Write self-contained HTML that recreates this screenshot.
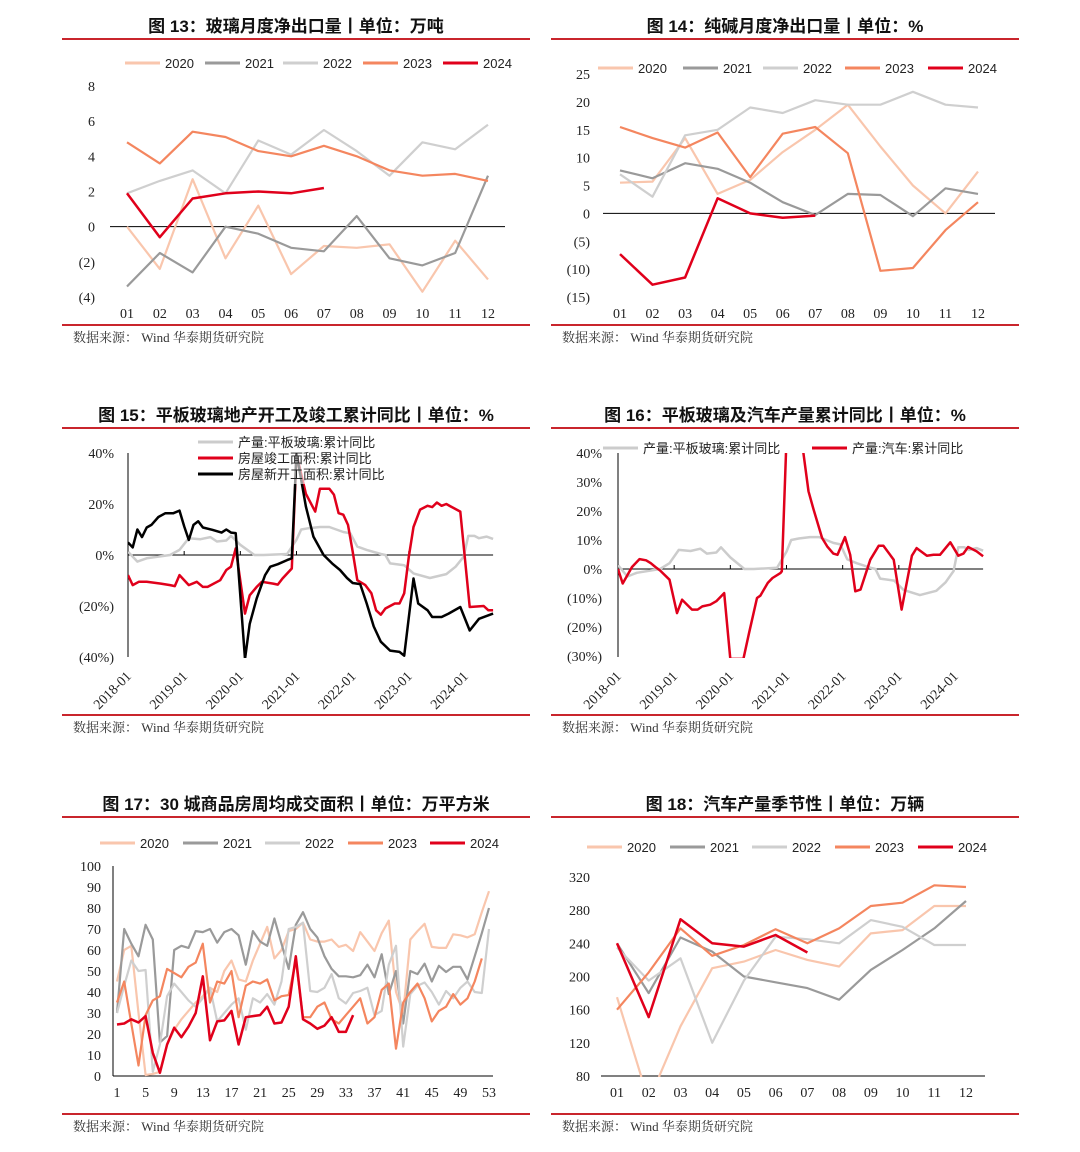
<!DOCTYPE html>
<html><head><meta charset="utf-8"><style>
body{margin:0;background:#fff;width:1080px;height:1152px;overflow:hidden}
svg{display:block}
.t{font-family:"Liberation Sans","Noto Sans CJK SC",sans-serif;font-weight:bold;font-size:17px;fill:#111}
.src{font-family:"Liberation Serif","Noto Serif CJK SC","Noto Sans CJK SC",serif;font-size:13px;fill:#333}
.tk{font-family:"Liberation Serif",serif;font-size:14px;fill:#222}
.lg{font-family:"Liberation Sans","Noto Sans CJK SC",sans-serif;font-size:13px;fill:#222}
</style></head><body>
<svg id="s" width="1080" height="1152" viewBox="0 0 1080 1152" xmlns="http://www.w3.org/2000/svg">
<defs>
<clipPath id="c13"><rect x="100" y="80" width="420" height="225"/></clipPath>
<clipPath id="c14"><rect x="600" y="70" width="410" height="230"/></clipPath>
<clipPath id="c15"><rect x="128" y="453" width="380" height="205"/></clipPath>
<clipPath id="c16"><rect x="618" y="453" width="380" height="205"/></clipPath>
<clipPath id="c17"><rect x="114" y="860" width="390" height="217"/></clipPath>
<clipPath id="c18"><rect x="603" y="870" width="400" height="207"/></clipPath>
</defs>
</svg>
<script>
const C20='#f9c6ad',C21='#9a9a9a',C22='#cfcfcf',C23='#f4865f',C24='#e0001b';
// Chart 13
const c13Cats=['01','02','03','04','05','06','07','08','09','10','11','12'];
const c13Ticks=['8','6','4','2','0','(2)','(4)'];
const c13Y2020=[0.0,-2.4,2.7,-1.8,1.2,-2.7,-1.1,-1.2,-1.0,-3.7,-0.8,-3.0];
const c13Y2021=[-3.4,-1.5,-2.6,0.0,-0.4,-1.2,-1.4,0.6,-1.8,-2.2,-1.5,2.9];
const c13Y2022=[1.9,2.6,3.2,1.9,4.9,4.1,5.5,4.3,2.9,4.8,4.4,5.8];
const c13Y2023=[4.8,3.6,5.4,5.1,4.3,4.0,4.6,4.0,3.2,2.9,3.0,2.6];
const c13Y2024=[1.9,-0.6,1.6,1.9,2.0,1.9,2.2];
// Chart 14
const c14Cats=['01','02','03','04','05','06','07','08','09','10','11','12'];
const c14Ticks=['25','20','15','10','5','0','(5)','(10)','(15)'];
const c14Y2020=[5.5,5.7,13.5,3.5,6,11,15,19.5,12,5,0,7.5];
const c14Y2021=[7.7,6.3,9,8,5.5,2,-0.3,3.5,3.3,-0.5,4.5,3.5];
const c14Y2022=[7,3,14,15,19,18,20.3,19.5,19.5,21.8,19.5,19];
const c14Y2023=[15.5,13.5,11.8,14.5,6.5,14.3,15.5,10.8,-10.3,-9.8,-3,2];
const c14Y2024=[-7.3,-12.8,-11.5,2.7,0,-0.8,-0.4];
// Chart 15/16 (month index from 2018-01)
const yearLabels=['2018-01','2019-01','2020-01','2021-01','2022-01','2023-01','2024-01'];
const glassM=[0,2,4,9,11,13,15.5,17.6,19,21,22,24,27,29,34,36,37,38.6,41,43,46,47.5,49,51,54,55,56,59,61,64.5,68,70,71.7,72.7,74,75,76.6,78];
const glassV=[1.3,-2.6,-1.3,0,2,6.6,6.2,7,5.3,5.7,7.5,4,0,0,0.4,6,10,10.5,11,11,9,8.5,3.3,2,0.4,0,-3.3,-4,-7.2,-9,-7.5,-4.6,-0.7,7.5,7.5,6.6,7.2,6.3];
const compM=[0,1,2.3,4,7,9,10,11,13,14.7,16,17,19.7,21,22,23,25,26,27.5,28.6,31,32,33,35,36,38,40,41,43,44,45,46,47,48,49,50.7,52,53,54,55,57,58,59,60,61,62.4,64,65,66,67,68,69,71,73,76,77,78];
const compV=[-7.9,-11.8,-10.5,-10.5,-11.2,-11.8,-12.2,-7.9,-11.8,-10.5,-12.5,-12.5,-9.9,-5.9,-4.6,2.6,-23,-15.8,-12.5,-10.5,-11.2,-11.6,-9.2,-5.3,39.5,24,17,26,26,23.7,16.4,15.8,11.8,1.3,-9.9,-11.8,-15,-21.7,-23.4,-21,-19,-19,-15,-0.7,11,17.8,19.3,18.8,20.6,19.3,20,19,17,-20.4,-20,-21.7,-21.7];
const startM=[0,1,2,3,4,5,6.5,8,9.7,11,12,13,14,15,16,18,20,21,22,23,25,26,27.5,29.3,30.4,32,34,35,36,38,39.6,41.8,43.6,45.3,46.8,48,49.6,51,52.5,54,56,58,59,61,62,64,65,67,68.5,71,73,75,78];
const startV=[4.9,3,10,7,10.8,11.8,14.9,16.4,16.4,17.4,11.2,5.9,11.8,13.2,10.8,9.9,8.8,10,8.8,8.6,-40.8,-27,-17,-7.9,-4.6,-3.6,-2,-1.3,40,19,7.2,0,-3.3,-5.9,-9,-11,-11.4,-19,-28,-34,-37.5,-38,-39.5,-9.2,-19,-21.7,-24.3,-24.3,-23,-20.4,-29.6,-25,-23];
const autoM=[0,1,3,4.6,6,7,8,9,11,12.6,13.7,15.8,17,18,19.7,21,22.7,24,26.8,28,29.7,30.4,32,33,34.7,35,36,37,38,39.6,40.7,41.8,43.6,44.7,46,46.9,48.5,49.6,50.7,51.8,53.9,55.7,56.7,58.9,60.6,62.8,63.8,66,67.4,68.8,71,72.7,73.8,74.8,76.6,78];
const autoV=[0,-5,0.7,3.4,3,2,0.7,-0.5,-3.7,-15.2,-10.6,-14,-14,-12.9,-12.3,-11.1,-8.3,-31,-31,-22,-10,-9.2,-4.8,-3.1,-1.4,-0.8,45,80,70,40,26.8,20.5,10.7,7.8,5.3,4.9,11,4.9,-7.7,-7.1,3.2,8,8,3.2,-14,4.6,7.2,4.6,4.9,4.9,9.2,4.6,5.3,7.6,6.1,4.4];
const c15Ticks=['40%','20%','0%','(20%)','(40%)'];
const c16Ticks=['40%','30%','20%','10%','0%','(10%)','(20%)','(30%)'];
// Chart 17
const c17Ticks=['100','90','80','70','60','50','40','30','20','10','0'];
const c17XLabels=['1','5','9','13','17','21','25','29','33','37','41','45','49','53'];
const c17Y2020=[45,60,62,30,0.5,1,2,15,22,27,31,35,38,42,40,50,55,46,45,55,63,71,56,60,69,70,73,65,64,64,65,61.5,62.5,59.5,68.5,64,59.5,68,74,40,30,65,69,72.5,61.5,61,61,67.5,67,66,67.5,78,88];
const c17Y2021=[30,70,63,57,72,65,16,19,60,62,61,69,68.5,70,63.5,68.5,70,67,53,69,64,62,75,63,51,72,78,70,66,57,51,47.5,47.5,47,48,53,47,58,39,50,25,50,48.5,53.5,45,52.5,49.5,52,52,46,57,68,80];
const c17Y2022=[30,43,55,50,50.5,2,15,38,44,40,36,33,37,42,26,30,34,37,22,37,35,39,34,45,70,71,73,40.5,40,42,48.5,37,34.5,39.5,40.5,42,29,31,53,62,14,39,43,44.5,40,34,40.5,37,42,45,40,39.5,70];
const c17Y2023=[35,45,25,5,29,36,38,51,49,47,52,54,63,35,45,44,50,28,43,45,44,46,36,38,38.5,55,28,28,33,35,27,25,29,33,37,25,28,41,44,13,35,40,44,37,26,31,33,39,34,37,45,56];
const c17Y2024=[24.5,25,27,25.5,28.5,11,1.5,15,23,18.5,23.5,30,47.5,17,26,26.5,31,15,28,28.5,29,33,25,25.5,33,57,27,25,22.5,24,28,21,21,29];
// Chart 18
const c18Cats=['01','02','03','04','05','06','07','08','09','10','11','12'];
const c18Ticks=['320','280','240','200','160','120','80'];
const c18Y2020=[175,50,140,210,218,232,220,212,252,256,285,285];
const c18Y2021=[240,180,247,230,200,193,186,172,208,232,258,291];
const c18Y2022=[235,195,222,120,195,248,245,240,268,260,238,238];
const c18Y2023=[160,205,258,225,238,257,240,258,285,289,310,308];
const c18Y2024=[240,151,269,240,236,250,229];

const S=document.getElementById('s');const NS='http://www.w3.org/2000/svg';
function mk(tag,attrs,parent){const e=document.createElementNS(NS,tag);for(const k in attrs)e.setAttribute(k,attrs[k]);(parent||S).appendChild(e);return e;}
function txt(x,y,s,cls,anchor,fill,extra){const e=mk('text',Object.assign({x:x,y:y,class:cls,'text-anchor':anchor||'start'},extra||{}));if(fill)e.setAttribute('fill',fill);e.textContent=s;return e;}
function lin(a,b){return v=>a[1]+(v-a[0])*(b[1]-a[1])/(b[0]-a[0]);}
function series(xs,ys,xf,yf,color,w,clip,name){const pts=ys.map((v,i)=>xf(xs[i]).toFixed(1)+','+yf(v).toFixed(1)).join(' ');
 const p=mk('polyline',{points:pts,fill:'none',stroke:color,'stroke-width':w,'stroke-linejoin':'round','clip-path':'url(#'+clip+')'});
 
 return p;}
function frame(cx,title,ytop,ybot,src,nm){
 const t=txt(cx,ytop-6,title,'t','middle');
 
 
 const x0=cx<540?62:551;
 const r1=mk('rect',{x:x0,y:ytop,width:468,height:2,fill:'#c9252c'});
 
 
 const r2=mk('rect',{x:x0,y:ybot,width:468,height:2,fill:'#c9252c'});
 
 
 const s=txt(x0+11,ybot+18,'数据来源： Wind 华泰期货研究院','src');
 
 }
function legend(items,y,nm){items.forEach(it=>{const l=mk('line',{x1:it[0],y1:y,x2:it[0]+35,y2:y,stroke:it[2],'stroke-width':3});
 
 
 const t=txt(it[0]+40,y+5,it[1],'lg');
 
 });}
function yticks(ticks,x,yf,vals,redNeg){ticks.forEach((s,i)=>{const t=txt(x,yf(vals[i])+5,s,'tk','end',redNeg&&s.startsWith('(')?'#e0001b':null);
 
 });}

// ---------- Chart 13
frame(296,'图 13：玻璃月度净出口量丨单位：万吨',38,324,'','fig13');
{const xf=lin([0,127],[11,488]),yf=lin([8,86],[-4,297]);
 legend([[125,'2020',C20],[205,'2021',C21],[283,'2022',C22],[363,'2023',C23],[443,'2024',C24]],63,'fig13');
 yticks(c13Ticks,95,yf,[8,6,4,2,0,-2,-4],false);
 const z=mk('line',{x1:110,y1:yf(0),x2:505,y2:yf(0),stroke:'#000','stroke-width':1});
 
 
 c13Cats.forEach((c,i)=>{const t=txt(xf(i),318,c,'tk','middle');
  
  });
 const X=c13Cats.map((c,i)=>i);
 series(X,c13Y2020,xf,yf,C20,2.2,'c13','fig13-line-2020');series(X,c13Y2021,xf,yf,C21,2.2,'c13','fig13-line-2021');
 series(X,c13Y2022,xf,yf,C22,2.2,'c13','fig13-line-2022');series(X,c13Y2023,xf,yf,C23,2.2,'c13','fig13-line-2023');
 series(X,c13Y2024,xf,yf,C24,2.5,'c13','fig13-line-2024');}

// ---------- Chart 14
frame(785,'图 14：纯碱月度净出口量丨单位：%',38,324,'','fig14');
{const xf=lin([0,620],[11,978]),yf=lin([25,74],[-15,297]);
 legend([[598,'2020',C20],[683,'2021',C21],[763,'2022',C22],[845,'2023',C23],[928,'2024',C24]],68,'fig14');
 yticks(c14Ticks,590,yf,[25,20,15,10,5,0,-5,-10,-15],false);
 const z=mk('line',{x1:603,y1:yf(0),x2:995,y2:yf(0),stroke:'#000','stroke-width':1});
 
 
 c14Cats.forEach((c,i)=>{const t=txt(xf(i),318,c,'tk','middle');
  
  });
 const X=c14Cats.map((c,i)=>i);
 series(X,c14Y2020,xf,yf,C20,2.2,'c14','fig14-line-2020');series(X,c14Y2021,xf,yf,C21,2.2,'c14','fig14-line-2021');
 series(X,c14Y2022,xf,yf,C22,2.2,'c14','fig14-line-2022');series(X,c14Y2023,xf,yf,C23,2.2,'c14','fig14-line-2023');
 series(X,c14Y2024,xf,yf,C24,2.5,'c14','fig14-line-2024');}

function monthAxes(x0,x1,yTop,yBot,yZero,nm){
 const a=mk('line',{x1:x0,y1:yTop,x2:x0,y2:yBot,stroke:'#000','stroke-width':1});
 
 
 const xf=lin([0,x0],[72,x0+337]);
 const z=mk('line',{x1:x0,y1:yZero,x2:xf(78),y2:yZero,stroke:'#000','stroke-width':1});
 
 
 yearLabels.forEach((s,i)=>{const x=xf(i*12);mk('line',{x1:x,y1:yZero,x2:x,y2:yZero-4,stroke:'#000'});
  const t=txt(x+4,yBot+20,s,'tk','end',null,{transform:'rotate(-45 '+(x+4)+' '+(yBot+20)+')'});
  
  });
 return xf;}

// ---------- Chart 15
frame(296,'图 15：平板玻璃地产开工及竣工累计同比丨单位：%',427,714,'','fig15');
{const yf=lin([40,453],[-40,657]);const xf=monthAxes(128,500,453,657,yf(0),'fig15');
 yticks(c15Ticks,114,yf,[40,20,0,-20,-40],true);
 series(glassM,glassV,xf,yf,'#cccccc',2.5,'c15','fig15-line-glass');
 series(compM,compV,xf,yf,'#e0001b',2.5,'c15','fig15-line-completion');
 series(startM,startV,xf,yf,'#000',2.5,'c15','fig15-line-new-starts');
 const bg=mk('rect',{x:232,y:434,width:175,height:50,fill:'#fff',opacity:0.6});
 
 
 legend([[198,'产量:平板玻璃:累计同比','#cccccc']],442,'fig15');
 legend([[198,'房屋竣工面积:累计同比','#e0001b']],458,'fig15');
 legend([[198,'房屋新开工面积:累计同比','#000']],474,'fig15');}

// ---------- Chart 16
frame(785,'图 16：平板玻璃及汽车产量累计同比丨单位：%',427,714,'','fig16');
{const yf=lin([40,453],[0,569]);const xf=monthAxes(618,990,453,657,yf(0),'fig16');
 yticks(c16Ticks,602,yf,[40,30,20,10,0,-10,-20,-30],true);
 series(glassM,glassV,xf,yf,'#cccccc',2.5,'c16','fig16-line-glass');
 series(autoM,autoV,xf,yf,'#e0001b',2.5,'c16','fig16-line-auto');
 legend([[603,'产量:平板玻璃:累计同比','#cccccc'],[812,'产量:汽车:累计同比','#e0001b']],448,'fig16');}

// ---------- Chart 17
frame(296,'图 17：30 城商品房周均成交面积丨单位：万平方米',816,1113,'','fig17');
{const xf=lin([1,117],[53,489]),yf=lin([100,866],[0,1076]);
 legend([[100,'2020',C20],[183,'2021',C21],[265,'2022',C22],[348,'2023',C23],[430,'2024',C24]],843,'fig17');
 yticks(c17Ticks,101,yf,[100,90,80,70,60,50,40,30,20,10,0],false);
 const a=mk('line',{x1:113,y1:866,x2:113,y2:1076,stroke:'#000'});
 
 
 const b=mk('line',{x1:113,y1:1076,x2:493,y2:1076,stroke:'#000'});
 
 
 c17XLabels.forEach(s=>{const t=txt(xf(+s),1097,s,'tk','middle');
  
  });
 const W=n=>Array.from({length:n},(_,i)=>i+1);
 series(W(53),c17Y2020,xf,yf,C20,2.2,'c17','fig17-line-2020');series(W(53),c17Y2021,xf,yf,C21,2.2,'c17','fig17-line-2021');
 series(W(53),c17Y2022,xf,yf,C22,2.2,'c17','fig17-line-2022');series(W(52),c17Y2023,xf,yf,C23,2.2,'c17','fig17-line-2023');
 series(W(34),c17Y2024,xf,yf,C24,2.5,'c17','fig17-line-2024');}

// ---------- Chart 18
frame(785,'图 18：汽车产量季节性丨单位：万辆',816,1113,'','fig18');
{const xf=lin([0,617],[11,966]),yf=lin([320,877],[80,1076]);
 legend([[587,'2020',C20],[670,'2021',C21],[752,'2022',C22],[835,'2023',C23],[918,'2024',C24]],847,'fig18');
 yticks(c18Ticks,590,yf,[320,280,240,200,160,120,80],false);
 const b=mk('line',{x1:601,y1:1076,x2:985,y2:1076,stroke:'#000'});
 
 
 c18Cats.forEach((c,i)=>{const t=txt(xf(i),1097,c,'tk','middle');
  
  });
 const X=c18Cats.map((c,i)=>i);
 series(X,c18Y2020,xf,yf,C20,2.2,'c18','fig18-line-2020');series(X,c18Y2021,xf,yf,C21,2.2,'c18','fig18-line-2021');
 series(X,c18Y2022,xf,yf,C22,2.2,'c18','fig18-line-2022');series(X,c18Y2023,xf,yf,C23,2.2,'c18','fig18-line-2023');
 series(X,c18Y2024,xf,yf,C24,2.5,'c18','fig18-line-2024');}
</script>
</body></html>
